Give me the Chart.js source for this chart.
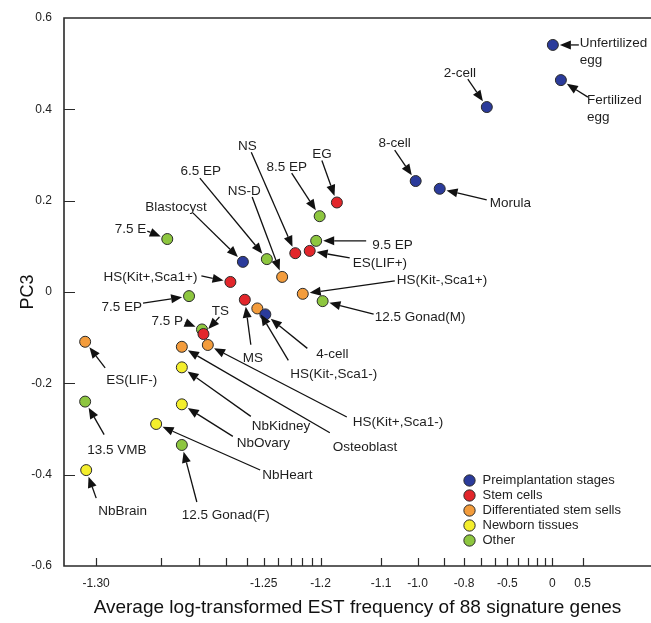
<!DOCTYPE html>
<html>
<head>
<meta charset="utf-8">
<script src="https://cdn.jsdelivr.net/npm/chart.js@4.4.1/dist/chart.umd.min.js"></script>
<style>
  html, body { margin: 0; padding: 0; background: #fff; }
</style>
</head>
<body>
<canvas id="pcaChart" width="651" height="623"></canvas>
<script>
// the x axis of the figure is logarithmic in (x + 1.31)
var X_SHIFT = 1.31;

var groupNames = ['Preimplantation stages', 'Stem cells', 'Differentiated stem sells', 'Newborn tissues', 'Other'];
var groupColors = ['#2b3b9b', '#e2262b', '#f39c3c', '#f4ee2c', '#8dc63f'];

var sampleNames = [
    'Unfertilized egg', 'Fertilized egg', '2-cell', '4-cell', '8-cell', 'Morula', 'Blastocyst',
    'EG', 'NS', 'ES(LIF+)', 'HS(Kit+,Sca1+)', 'MS', 'TS',
    'NS-D', 'HS(Kit-,Sca1+)', 'HS(Kit-,Sca1-)', 'HS(Kit+,Sca1-)', 'Osteoblast', 'ES(LIF-)',
    'NbKidney', 'NbOvary', 'NbHeart', 'NbBrain',
    '7.5 E', '7.5 EP', '6.5 EP', '8.5 EP', '9.5 EP', '12.5 Gonad(M)', '12.5 Gonad(F)', '13.5 VMB', '7.5 P'
];
var sampleGroups = [
    0, 0, 0, 0, 0, 0, 0,
    1, 1, 1, 1, 1, 1,
    2, 2, 2, 2, 2, 2,
    3, 3, 3, 3,
    4, 4, 4, 4, 4, 4, 4, 4, 4
];
var estFreq = [
    0.006, 0.124, -0.66, -1.249, -1.006, -0.917, -1.262,
    -1.179, -1.226, -1.212, -1.268, -1.261, -1.2785,
    -1.237, -1.219, -1.254, -1.277, -1.285, -1.3011,
    -1.285, -1.285, -1.291, -1.301,
    -1.2886, -1.283, -1.248, -1.201, -1.205, -1.1975, -1.285, -1.3011, -1.279
];
var pc3 = [
    0.541, 0.464, 0.405, -0.049, 0.243, 0.226, 0.066,
    0.196, 0.085, 0.090, 0.022, -0.017, -0.092,
    0.033, -0.004, -0.036, -0.116, -0.120, -0.109,
    -0.165, -0.246, -0.289, -0.390,
    0.116, -0.009, 0.072, 0.166, 0.112, -0.020, -0.335, -0.240, -0.082
];

var xTickValues = [-1.30, -1.29, -1.28, -1.27, -1.26, -1.25, -1.24, -1.23, -1.22, -1.21, -1.20,
    -1.1, -1.0, -0.9, -0.8, -0.7, -0.6, -0.5, -0.4, -0.3, -0.2, -0.1, 0, 0.5];
var xTickLabels = ['-1.30', '', '', '', '', '-1.25', '', '', '', '', '-1.2',
    '-1.1', '-1.0', '', '-0.8', '', '', '-0.5', '', '', '', '', '0', '0.5'];

// label placement: [text dx, text dy, align, arrow tail dx, arrow tail dy] in pixels from the point
var labelPlacement = {
    'Unfertilized egg': [27, -2, 'left', 26, 0],
    'Fertilized egg': [26, 20, 'left', 27, 17],
    '2-cell': [-27, -34, 'center', -19, -28],
    '8-cell': [-21, -38, 'center', -21, -31],
    'Morula': [50, 14, 'left', 47, 11],
    'Blastocyst': [-67, -55, 'center', -50, -49],
    '4-cell': [51, 40, 'left', 42, 34],
    'EG': [-15, -48, 'center', -15, -42],
    'NS': [-48, -107, 'center', -44, -101],
    'ES(LIF+)': [43, 12, 'left', 40, 7],
    'HS(Kit+,Sca1+)': [-33, -5, 'right', -29, -6],
    'MS': [8, 59, 'center', 6, 45],
    'TS': [17, -23, 'center', 16, -17],
    'NS-D': [-38, -86, 'center', -30, -80],
    'HS(Kit-,Sca1+)': [94, -14, 'left', 92, -13],
    'HS(Kit-,Sca1-)': [33, 66, 'left', 31, 52],
    'HS(Kit+,Sca1-)': [145, 77, 'left', 139, 72],
    'Osteoblast': [151, 100, 'left', 148, 86],
    'ES(LIF-)': [21, 39, 'left', 20, 26],
    'NbKidney': [70, 59, 'left', 69, 49],
    'NbOvary': [55, 39, 'left', 51, 32],
    'NbHeart': [106, 51, 'left', 104, 46],
    'NbBrain': [12, 41, 'left', 10, 28],
    '7.5 E': [-21, -10, 'right', -20, -8],
    '7.5 EP': [-47, 11, 'right', -46, 7],
    '6.5 EP': [-66, -88, 'center', -67, -81],
    '8.5 EP': [-33, -49, 'center', -28, -43],
    '9.5 EP': [56, 4, 'left', 50, 0],
    '12.5 Gonad(M)': [52, 16, 'left', 51, 13],
    '12.5 Gonad(F)': [0, 70, 'left', 15, 57],
    '13.5 VMB': [2, 49, 'left', 19, 33],
    '7.5 P': [-19, -8, 'right', -17, -7]
};

var POINT_R = 5.5;

var datasets = groupNames.map(function (g, gi) {
    var pts = [];
    for (var i = 0; i < sampleNames.length; i++) {
        if (sampleGroups[i] === gi) {
            pts.push({ x: estFreq[i] + X_SHIFT, y: pc3[i] });
        }
    }
    return {
        label: g,
        data: pts,
        backgroundColor: groupColors[gi],
        borderColor: '#2a2a2a',
        borderWidth: 1,
        pointRadius: POINT_R,
        pointHoverRadius: POINT_R
    };
});

// frame lines and inward tick marks
var framePlugin = {
    id: 'frame',
    afterDraw: function (chart) {
        var ctx = chart.ctx, a = chart.chartArea;
        var xs = chart.scales.x, ys = chart.scales.y;
        ctx.save();
        ctx.strokeStyle = '#2a2a2a';
        ctx.lineWidth = 1.6;
        ctx.beginPath();
        ctx.moveTo(chart.width, a.top);
        ctx.lineTo(a.left, a.top);
        ctx.lineTo(a.left, a.bottom);
        ctx.lineTo(chart.width, a.bottom);
        ctx.stroke();
        ctx.lineWidth = 1.2;
        ctx.beginPath();
        xTickValues.forEach(function (v) {
            var px = Math.round(xs.getPixelForValue(v + X_SHIFT)) + 0.5;
            ctx.moveTo(px, a.bottom);
            ctx.lineTo(px, a.bottom - 8);
        });
        ys.ticks.forEach(function (t) {
            if (Math.abs(t.value) > 0.59) return;
            var py = Math.round(ys.getPixelForValue(t.value)) + 0.5;
            ctx.moveTo(a.left, py);
            ctx.lineTo(a.left + 11, py);
        });
        ctx.stroke();
        ctx.restore();
    }
};

function drawArrow(ctx, x1, y1, x2, y2) {
    var ang = Math.atan2(y2 - y1, x2 - x1);
    var headLen = 11, headW = 4.5;
    var bx = x2 - headLen * Math.cos(ang);
    var by = y2 - headLen * Math.sin(ang);
    ctx.beginPath();
    ctx.moveTo(x1, y1);
    ctx.lineTo(bx, by);
    ctx.stroke();
    ctx.beginPath();
    ctx.moveTo(x2, y2);
    ctx.lineTo(bx + headW * Math.sin(ang), by - headW * Math.cos(ang));
    ctx.lineTo(bx - headW * Math.sin(ang), by + headW * Math.cos(ang));
    ctx.closePath();
    ctx.fill();
}

// sample labels with arrows
var labelPlugin = {
    id: 'sampleLabels',
    afterDatasetsDraw: function (chart) {
        var ctx = chart.ctx;
        var xs = chart.scales.x, ys = chart.scales.y;
        ctx.save();
        ctx.font = '13.5px "Liberation Sans", Arial, sans-serif';
        ctx.strokeStyle = '#111';
        ctx.lineWidth = 1.3;
        ctx.textBaseline = 'middle';
        sampleNames.forEach(function (name, i) {
            var p = labelPlacement[name];
            if (!p) return;
            var px = xs.getPixelForValue(estFreq[i] + X_SHIFT);
            var py = ys.getPixelForValue(pc3[i]);
            var tx = px + p[3], ty = py + p[4];
            var d = Math.sqrt((tx - px) * (tx - px) + (ty - py) * (ty - py));
            var gap = POINT_R + 1.5;
            var hx = px + (tx - px) * gap / d, hy = py + (ty - py) * gap / d;
            ctx.fillStyle = '#111';
            drawArrow(ctx, tx, ty, hx, hy);
            ctx.fillStyle = '#1e1e1e';
            ctx.textAlign = p[2];
            var lines = name.split(' egg').length > 1 ? [name.replace(' egg', ''), 'egg'] : [name];
            lines.forEach(function (ln, k) {
                ctx.fillText(ln, px + p[0], py + p[1] + k * 17);
            });
        });
        ctx.restore();
    }
};

// move the legend into the lower right of the plot
var legendPlace = {
    id: 'legendPlace',
    afterLayout: function (chart) {
        var lg = chart.legend;
        if (!lg) return;
        lg.left = 461;
        lg.top = 472;
        lg.right = lg.left + lg.width;
        lg.bottom = chart.chartArea.bottom;
    }
};

Chart.defaults.font.family = '"Liberation Sans", Arial, sans-serif';
Chart.defaults.color = '#222';

var ctx = document.getElementById('pcaChart').getContext('2d');
var chart = new Chart(ctx, {
    type: 'scatter',
    data: { datasets: datasets },
    options: {
        responsive: false,
        animation: false,
        layout: { autoPadding: false, padding: { top: 18, left: 0, right: 0, bottom: 0 } },
        scales: {
            x: {
                type: 'logarithmic',
                min: -1.3029 + X_SHIFT,
                max: 2.445 + X_SHIFT,
                grid: { display: false, drawTicks: false },
                border: { display: false },
                afterBuildTicks: function (scale) {
                    scale.ticks = xTickValues.map(function (v) { return { value: v + X_SHIFT }; });
                },
                afterFit: function (scale) {
                    scale.height = 57;
                    scale.paddingLeft = 0;
                    scale.paddingRight = 0;
                },
                ticks: {
                    autoSkip: false,
                    maxRotation: 0,
                    padding: 10,
                    font: { size: 12 },
                    color: '#222',
                    callback: function (value, index) { return xTickLabels[index]; }
                },
                title: {
                    display: true,
                    text: 'Average log-transformed EST frequency of 88 signature genes',
                    font: { size: 19 },
                    color: '#111',
                    padding: { top: 0, bottom: 4 }
                }
            },
            y: {
                min: -0.6,
                max: 0.6,
                grid: { display: false, drawTicks: false },
                border: { display: false },
                afterFit: function (scale) {
                    scale.width = 64;
                    scale.paddingTop = 0;
                    scale.paddingBottom = 0;
                },
                ticks: {
                    stepSize: 0.2,
                    padding: 12,
                    font: { size: 12 },
                    color: '#222',
                    callback: function (v) { return Math.abs(v) < 1e-9 ? '0' : v.toFixed(1); }
                },
                title: {
                    display: true,
                    text: 'PC3',
                    font: { size: 18 },
                    color: '#111',
                    padding: { top: 17, bottom: 0 }
                }
            }
        },
        plugins: {
            tooltip: { enabled: false },
            legend: {
                position: 'chartArea',
                align: 'start',
                labels: {
                    usePointStyle: true,
                    pointStyle: 'circle',
                    boxHeight: 8,
                    boxWidth: 13,
                    padding: 2,
                    font: { size: 13 },
                    color: '#222'
                }
            }
        }
    },
    plugins: [framePlugin, labelPlugin, legendPlace]
});
</script>
</body>
</html>
